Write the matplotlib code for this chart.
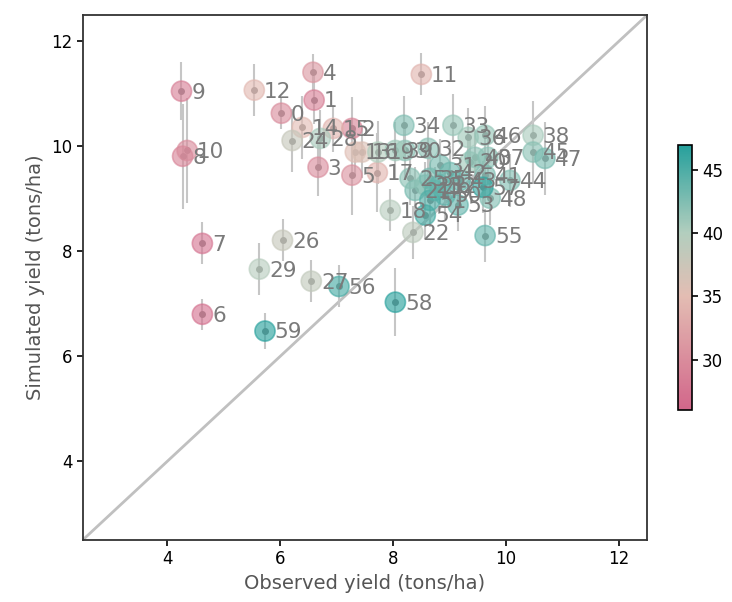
import matplotlib
matplotlib.use("Agg")
import matplotlib.pyplot as plt
from matplotlib.colors import LinearSegmentedColormap

# observed / simulated yield per site, with simulated spread and colour value
site = list(range(60))
observed = [6.02, 6.60, 7.27, 6.67, 6.58, 7.27, 4.62, 4.62, 4.27, 4.25,
            4.35, 8.50, 5.54, 7.33, 6.39, 6.94, 7.45, 7.72, 7.95, 7.73,
            9.36, 8.39, 8.35, 8.57, 6.21, 8.30, 6.04, 6.55, 6.71, 5.63,
            8.21, 8.83, 8.62, 9.06, 8.19, 8.65, 9.33, 9.68, 10.48, 8.04,
            9.45, 9.63, 9.01, 9.19, 10.07, 10.48, 9.63, 10.69, 9.72, 8.74,
            8.92, 8.65, 8.83, 9.15, 8.57, 9.63, 7.04, 9.59, 8.04, 5.73]
simulated = [10.63, 10.88, 10.34, 9.60, 11.41, 9.45, 6.80, 8.15, 9.81, 11.05,
             9.92, 11.37, 11.07, 9.89, 10.36, 10.34, 9.89, 9.50, 8.78, 9.89,
             9.70, 9.16, 8.36, 9.26, 10.11, 9.39, 8.21, 7.43, 10.15, 7.66,
             9.92, 9.64, 9.96, 10.40, 10.40, 9.39, 10.17, 9.79, 10.21, 9.92,
             9.79, 9.45, 9.50, 9.35, 9.35, 9.89, 10.21, 9.77, 9.01, 9.16,
             9.07, 8.97, 9.26, 8.88, 8.69, 8.30, 7.33, 9.22, 7.03, 6.48]
sim_err = [0.30, 0.45, 0.60, 0.55, 0.35, 0.75, 0.30, 0.40, 1.00, 0.55,
           1.00, 0.40, 0.50, 0.45, 0.60, 0.45, 0.50, 0.75, 0.40, 0.60,
           0.50, 0.45, 0.50, 0.45, 0.60, 0.50, 0.40, 0.40, 0.55, 0.50,
           0.55, 0.50, 0.50, 0.60, 0.55, 0.45, 0.55, 0.50, 0.65, 0.55,
           0.50, 0.55, 0.50, 0.45, 0.50, 0.60, 0.55, 0.70, 0.50, 0.45,
           0.45, 0.50, 0.45, 0.50, 0.45, 0.50, 0.40, 0.50, 0.65, 0.35]
colour_val = [30.0, 28.5, 29.0, 30.0, 31.0, 30.5, 27.0, 27.5, 29.0, 28.5,
              30.0, 34.0, 34.5, 35.5, 35.0, 34.0, 36.0, 34.0, 39.5, 40.0,
              41.0, 43.0, 39.0, 42.0, 38.0, 42.0, 38.0, 38.5, 40.5, 39.5,
              42.0, 43.0, 42.0, 41.5, 42.5, 43.0, 41.0, 42.0, 40.5, 41.0,
              42.0, 42.5, 43.5, 44.0, 42.5, 42.0, 41.5, 43.0, 42.5, 44.0,
              44.5, 45.0, 44.0, 44.0, 45.5, 44.0, 45.5, 46.5, 47.0, 47.0]

cmap = LinearSegmentedColormap.from_list(
    "pink_teal",
    [(0.0, "#d2668a"), (0.43, "#e3bdb3"), (0.67, "#b2cebe"), (1.0, "#26a09c")])

fig = plt.figure(figsize=(7.32, 6.02), dpi=100)
ax = fig.add_axes([0.113, 0.103, 0.771, 0.872])

ax.plot([2.5, 12.5], [2.5, 12.5], color="#c0c0c0", lw=2, zorder=1)

ax.errorbar(observed, simulated, yerr=sim_err, fmt="o", ms=4,
            color="#888888", ecolor="#c6c6c6", elinewidth=1.5, zorder=2)
sc = ax.scatter(observed, simulated, c=colour_val, cmap=cmap, vmin=26, vmax=47,
                s=210, alpha=0.62, edgecolors="face", linewidths=1.2, zorder=3)

for i, txt in enumerate(site):
    ax.annotate(str(txt), (observed[i], simulated[i]), xytext=(7, -1),
                textcoords="offset points", va="center", ha="left",
                fontsize=15.5, color="#7a7a7a", zorder=4)

ax.set_xlim(2.5, 12.5)
ax.set_ylim(2.5, 12.5)
ax.set_xticks([4, 6, 8, 10, 12])
ax.set_yticks([4, 6, 8, 10, 12])
ax.tick_params(labelsize=12, length=4, width=1.2)
for s in ax.spines.values():
    s.set_linewidth(1.3)
    s.set_color("#333333")
ax.set_xlabel("Observed yield (tons/ha)", fontsize=14, color="#555555")
ax.set_ylabel("Simulated yield (tons/ha)", fontsize=14, color="#555555")

cax = fig.add_axes([0.926, 0.319, 0.019, 0.44])
cb = fig.colorbar(sc, cax=cax)
cb.solids.set_alpha(1)
cb.set_ticks([30, 35, 40, 45])
cb.ax.tick_params(labelsize=12, length=4, width=1.2)
cb.outline.set_linewidth(1.2)

fig.savefig("out.png", dpi=100)
